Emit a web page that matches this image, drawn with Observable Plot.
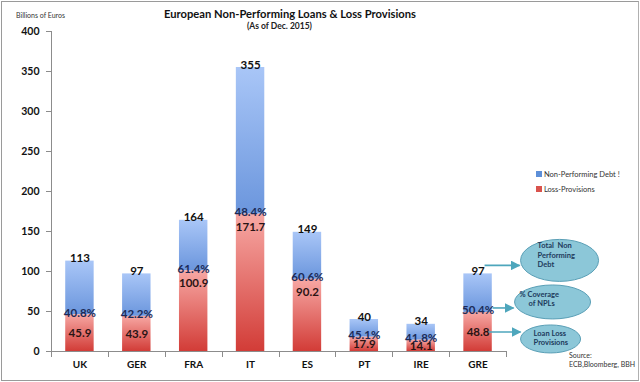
<!DOCTYPE html>
<html>
<head>
<meta charset="utf-8">
<script src="https://cdn.jsdelivr.net/npm/d3@7"></script>
<script src="https://cdn.jsdelivr.net/npm/@observablehq/plot@0.6"></script>
<style>
  body { margin: 0; background: #fff; }
  #wrap { position: relative; width: 640px; height: 382px; overflow: hidden; font-family: Lato, "DejaVu Sans", sans-serif; }
  #wrap .abs { position: absolute; white-space: nowrap; line-height: 1; }
  #border { position: absolute; left: 1px; top: 1px; width: 638px; height: 380px; box-sizing: border-box; border: 1px solid #9a9a9a; border-right-color:#b0b0b0; }
  #chart { position: absolute; left: 0; top: 0; }
  #chart svg [aria-label^="y-axis"] line, #chart svg [aria-label^="y-axis"] path { stroke: #8c8c8c; }
  .sw { display: inline-block; width: 6px; height: 6px; margin-right: 2px; vertical-align: 0px; }
</style>
</head>
<body>
<svg width="0" height="0" style="position:absolute">
  <defs>
    <linearGradient id="gBlue" x1="0" y1="0" x2="0" y2="1">
      <stop offset="0" stop-color="#a9c6f7"/>
      <stop offset="1" stop-color="#6b96dd"/>
    </linearGradient>
    <linearGradient id="gRed" x1="0" y1="0" x2="0" y2="1">
      <stop offset="0" stop-color="#f7a8a4"/>
      <stop offset="1" stop-color="#d23c37"/>
    </linearGradient>
  </defs>
</svg>
<div id="wrap">
  <div id="border"></div>
  <div id="chart"></div>
  <div class="abs" style="left:0;width:580px;top:8px;text-align:center;font-size:11.2px;font-weight:bold;color:#111;">European Non-Performing Loans &amp; Loss Provisions</div>
  <div class="abs" style="left:247px;top:22px;font-size:8.5px;font-weight:bold;color:#222;">(As of Dec. 2015)</div>
  <div class="abs" style="left:16px;top:12px;font-size:7px;color:#333;">Billions of Euros</div>
  <div class="abs" style="left:536px;top:171px;font-size:7.5px;color:#333;"><span class="sw" style="background:#5d8fd8"></span>Non-Performing Debt !</div>
  <div class="abs" style="left:536px;top:186px;font-size:7.5px;color:#333;"><span class="sw" style="background:#d9534d"></span>Loss-Provisions</div>
  <div class="abs" style="left:569px;top:352px;font-size:7px;color:#333;">Source:</div>
  <div class="abs" style="left:569px;top:361px;font-size:7px;color:#333;">ECB,Bloomberg, BBH</div>
</div>
<script>
const countries = ["UK", "GER", "FRA", "IT", "ES", "PT", "IRE", "GRE"];
const totalNPL  = [113, 97, 164, 355, 149, 40, 34, 97];
const lossProv  = [45.9, 43.9, 100.9, 171.7, 90.2, 17.9, 14.1, 48.8];
const coverage  = [40.8, 42.2, 61.4, 48.4, 60.6, 45.1, 41.8, 50.4];
const yTicks    = [0, 50, 100, 150, 200, 250, 300, 350, 400];
const noteTotal = ["Total  Non", "Performing", "Debt"];
const noteCover = ["% Coverage", "of NPLs"];
const noteLoss  = ["Loan Loss", "Provisions"];

const data = countries.map((c, i) => ({
  country: c, total: totalNPL[i], loss: lossProv[i], pct: coverage[i]
}));
const last = data[data.length - 1];

const NS = "http://www.w3.org/2000/svg";
function el(tag, attrs, parent) {
  const e = document.createElementNS(NS, tag);
  for (const k in attrs) e.setAttribute(k, attrs[k]);
  if (parent) parent.appendChild(e);
  return e;
}

function decorations(index, scales, values, dimensions) {
  const x = scales.x, y = scales.y;
  const bw = x.bandwidth();
  const step = x.step();
  const {marginLeft, width, marginRight} = dimensions;
  const g = el("g", {});
  const axisColor = "#8c8c8c";
  const y0 = y(0);
  el("line", {x1: marginLeft + 0.5, x2: marginLeft + 0.5, y1: y(400), y2: y0, stroke: axisColor}, g);
  el("line", {x1: marginLeft, x2: width - marginRight, y1: y0 + 0.5, y2: y0 + 0.5, stroke: axisColor}, g);
  const first = x(countries[0]) - (step - bw) / 2;
  for (let i = 0; i <= countries.length; i++) {
    const bx = Math.round(first + i * step) + 0.5;
    el("line", {x1: bx, x2: bx, y1: y0, y2: y0 + 6, stroke: axisColor}, g);
  }
  const gx = x(last.country) + bw / 2;
  const col = "#4ea6bc";
  const defs = el("defs", {}, g);
  const mk = el("marker", {id: "arr", viewBox: "0 0 10 10", refX: 9, refY: 5, markerWidth: 6, markerHeight: 6, orient: "auto"}, defs);
  el("path", {d: "M0,0L10,5L0,10z", fill: col}, mk);
  const arrows = [
    {x1: gx + 7, y: y(last.total) - 8, x2: gx + 42},
    {x1: gx + 15, y: y(last.loss) - 4, x2: gx + 36},
    {x1: gx + 11, y: y(last.loss) + 20, x2: gx + 43}
  ];
  arrows.forEach(a => el("line", {x1: a.x1, x2: a.x2, y1: a.y, y2: a.y, stroke: col, "stroke-width": 1.6, "marker-end": "url(#arr)"}, g));
  const ells = [
    {cx: gx + 82, cy: y(last.total) - 13, rx: 39, ry: 21, lines: noteTotal, tx: gx + 60, ty0: y(last.total) - 27, indent: [0, 0, 0]},
    {cx: gx + 75, cy: y(last.loss) - 10, rx: 38, ry: 17, lines: noteCover, tx: gx + 42, ty0: y(last.loss) - 17, indent: [0, 9]},
    {cx: gx + 73, cy: y(last.loss) + 27, rx: 30, ry: 14, lines: noteLoss, tx: gx + 56, ty0: y(last.loss) + 22, indent: [0, 0]}
  ];
  ells.forEach(e => {
    el("ellipse", {cx: e.cx, cy: e.cy, rx: e.rx, ry: e.ry, fill: "#8cc7d8", stroke: "#5a9fb6", "stroke-width": 1}, g);
    e.lines.forEach((t, j) => {
      const tt = el("text", {x: e.tx + e.indent[j], y: e.ty0 + j * 9.5, "font-size": 7.5, "font-weight": "bold", fill: "#203a5c", "dominant-baseline": "middle", "text-anchor": "start", "font-family": "Lato"}, g);
      tt.textContent = t;
    });
  });
  return g;
}

const chart = Plot.plot({
  width: 640,
  height: 382,
  marginLeft: 51,
  marginRight: 134,
  marginTop: 31,
  marginBottom: 31,
  style: {fontFamily: "Lato, sans-serif", fontWeight: "bold", background: "transparent", color: "#111"},
  x: {domain: countries, paddingInner: 0.5, paddingOuter: 0.25, round: false, label: null, tickSize: 0, tickPadding: 9},
  y: {domain: [0, 400], ticks: yTicks, tickSize: 5, tickPadding: 7, label: null},
  marks: [
    Plot.barY(data, {x: "country", y1: "loss", y2: "total", fill: "url(#gBlue)"}),
    Plot.barY(data, {x: "country", y1: 0, y2: "loss", fill: "url(#gRed)"}),
    Plot.text(data, {x: "country", y: "total", text: d => String(d.total), lineAnchor: "bottom", dy: 1, fontSize: 11.5, fontWeight: "bold", fill: "#111"}),
    Plot.text(data, {x: "country", y: "loss", text: d => d.pct.toFixed(1) + "%", lineAnchor: "bottom", dy: 2, fontSize: 11.5, fontWeight: "bold", fill: "#1c2b57"}),
    Plot.text(data, {x: "country", y: d => d.loss >= 60 ? d.loss - 16 : d.loss / 2, text: d => d.loss.toFixed(1), fontSize: 11.5, fontWeight: "bold", fill: "#2a1414"}),
    decorations
  ]
});
document.getElementById("chart").appendChild(chart);
document.querySelectorAll('#chart svg [aria-label^="x-axis"] text').forEach(t => t.setAttribute("font-size", "10"));
document.querySelectorAll('#chart svg [aria-label^="y-axis"] text').forEach(t => t.setAttribute("font-size", "10.5"));
</script>
</body>
</html>
